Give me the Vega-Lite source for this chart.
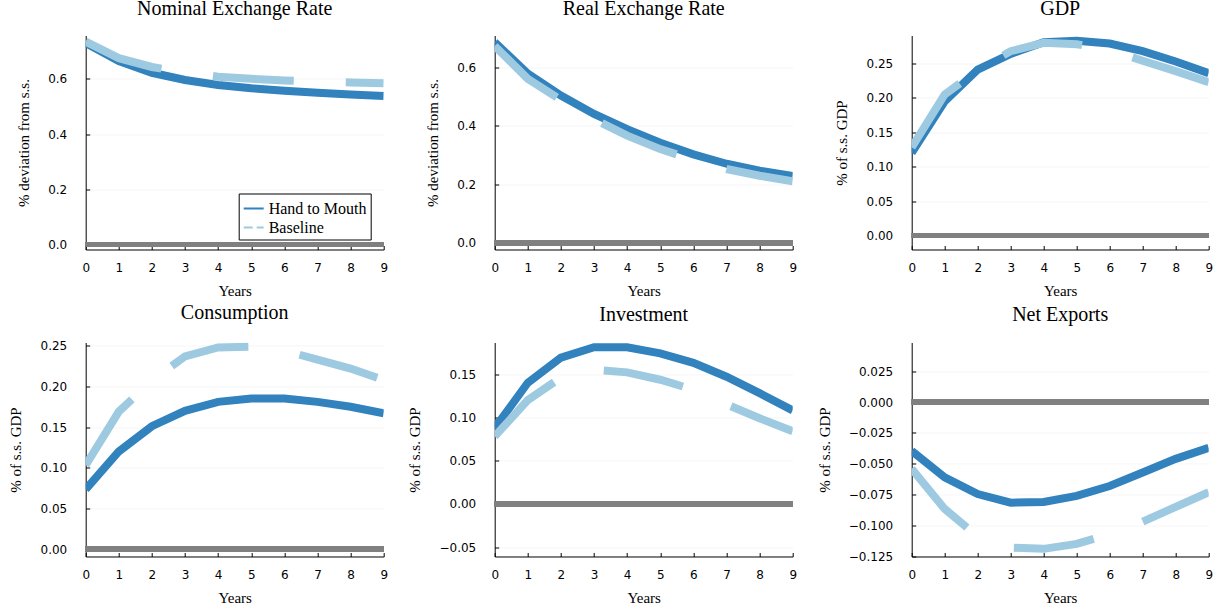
{
  "$schema": "https://vega.github.io/schema/vega-lite/v6.json",
  "padding": {"left": 8.7, "top": -1.5, "right": 5, "bottom": 5},
  "background": "white",
  "data": {"values": [
    {"panel":"NER","series":"Hand to Mouth","year":0,"value":0.73},{"panel":"NER","series":"Hand to Mouth","year":1,"value":0.664},{"panel":"NER","series":"Hand to Mouth","year":2,"value":0.622},{"panel":"NER","series":"Hand to Mouth","year":3,"value":0.596},{"panel":"NER","series":"Hand to Mouth","year":4,"value":0.578},{"panel":"NER","series":"Hand to Mouth","year":5,"value":0.566},{"panel":"NER","series":"Hand to Mouth","year":6,"value":0.557},{"panel":"NER","series":"Hand to Mouth","year":7,"value":0.55},{"panel":"NER","series":"Hand to Mouth","year":8,"value":0.543},{"panel":"NER","series":"Hand to Mouth","year":9,"value":0.538},
    {"panel":"NER","series":"Baseline","year":0,"value":0.735},{"panel":"NER","series":"Baseline","year":1,"value":0.675},{"panel":"NER","series":"Baseline","year":2,"value":0.643},{"panel":"NER","series":"Baseline","year":3,"value":0.622},{"panel":"NER","series":"Baseline","year":4,"value":0.608},{"panel":"NER","series":"Baseline","year":5,"value":0.6},{"panel":"NER","series":"Baseline","year":6,"value":0.594},{"panel":"NER","series":"Baseline","year":7,"value":0.59},{"panel":"NER","series":"Baseline","year":8,"value":0.587},{"panel":"NER","series":"Baseline","year":9,"value":0.584},
    {"panel":"RER","series":"Hand to Mouth","year":0,"value":0.685},{"panel":"RER","series":"Hand to Mouth","year":1,"value":0.578},{"panel":"RER","series":"Hand to Mouth","year":2,"value":0.503},{"panel":"RER","series":"Hand to Mouth","year":3,"value":0.44},{"panel":"RER","series":"Hand to Mouth","year":4,"value":0.388},{"panel":"RER","series":"Hand to Mouth","year":5,"value":0.342},{"panel":"RER","series":"Hand to Mouth","year":6,"value":0.302},{"panel":"RER","series":"Hand to Mouth","year":7,"value":0.27},{"panel":"RER","series":"Hand to Mouth","year":8,"value":0.246},{"panel":"RER","series":"Hand to Mouth","year":9,"value":0.228},
    {"panel":"RER","series":"Baseline","year":0,"value":0.672},{"panel":"RER","series":"Baseline","year":1,"value":0.56},{"panel":"RER","series":"Baseline","year":2,"value":0.488},{"panel":"RER","series":"Baseline","year":3,"value":0.422},{"panel":"RER","series":"Baseline","year":4,"value":0.366},{"panel":"RER","series":"Baseline","year":5,"value":0.32},{"panel":"RER","series":"Baseline","year":6,"value":0.283},{"panel":"RER","series":"Baseline","year":7,"value":0.252},{"panel":"RER","series":"Baseline","year":8,"value":0.229},{"panel":"RER","series":"Baseline","year":9,"value":0.21},
    {"panel":"GDP","series":"Hand to Mouth","year":0,"value":0.12},{"panel":"GDP","series":"Hand to Mouth","year":1,"value":0.195},{"panel":"GDP","series":"Hand to Mouth","year":2,"value":0.241},{"panel":"GDP","series":"Hand to Mouth","year":3,"value":0.264},{"panel":"GDP","series":"Hand to Mouth","year":4,"value":0.281},{"panel":"GDP","series":"Hand to Mouth","year":5,"value":0.283},{"panel":"GDP","series":"Hand to Mouth","year":6,"value":0.279},{"panel":"GDP","series":"Hand to Mouth","year":7,"value":0.268},{"panel":"GDP","series":"Hand to Mouth","year":8,"value":0.253},{"panel":"GDP","series":"Hand to Mouth","year":9,"value":0.236},
    {"panel":"GDP","series":"Baseline","year":0,"value":0.128},{"panel":"GDP","series":"Baseline","year":1,"value":0.205},{"panel":"GDP","series":"Baseline","year":2,"value":0.24},{"panel":"GDP","series":"Baseline","year":3,"value":0.268},{"panel":"GDP","series":"Baseline","year":4,"value":0.28},{"panel":"GDP","series":"Baseline","year":5,"value":0.278},{"panel":"GDP","series":"Baseline","year":6,"value":0.27},{"panel":"GDP","series":"Baseline","year":7,"value":0.254},{"panel":"GDP","series":"Baseline","year":8,"value":0.239},{"panel":"GDP","series":"Baseline","year":9,"value":0.223},
    {"panel":"C","series":"Hand to Mouth","year":0,"value":0.0735},{"panel":"C","series":"Hand to Mouth","year":1,"value":0.12},{"panel":"C","series":"Hand to Mouth","year":2,"value":0.151},{"panel":"C","series":"Hand to Mouth","year":3,"value":0.17},{"panel":"C","series":"Hand to Mouth","year":4,"value":0.181},{"panel":"C","series":"Hand to Mouth","year":5,"value":0.185},{"panel":"C","series":"Hand to Mouth","year":6,"value":0.185},{"panel":"C","series":"Hand to Mouth","year":7,"value":0.181},{"panel":"C","series":"Hand to Mouth","year":8,"value":0.175},{"panel":"C","series":"Hand to Mouth","year":9,"value":0.167},
    {"panel":"C","series":"Baseline","year":0,"value":0.103},{"panel":"C","series":"Baseline","year":1,"value":0.169},{"panel":"C","series":"Baseline","year":2,"value":0.207},{"panel":"C","series":"Baseline","year":3,"value":0.237},{"panel":"C","series":"Baseline","year":4,"value":0.248},{"panel":"C","series":"Baseline","year":5,"value":0.249},{"panel":"C","series":"Baseline","year":6,"value":0.244},{"panel":"C","series":"Baseline","year":7,"value":0.233},{"panel":"C","series":"Baseline","year":8,"value":0.222},{"panel":"C","series":"Baseline","year":9,"value":0.208},
    {"panel":"I","series":"Hand to Mouth","year":0,"value":0.0875},{"panel":"I","series":"Hand to Mouth","year":1,"value":0.14},{"panel":"I","series":"Hand to Mouth","year":2,"value":0.169},{"panel":"I","series":"Hand to Mouth","year":3,"value":0.181},{"panel":"I","series":"Hand to Mouth","year":4,"value":0.181},{"panel":"I","series":"Hand to Mouth","year":5,"value":0.174},{"panel":"I","series":"Hand to Mouth","year":6,"value":0.163},{"panel":"I","series":"Hand to Mouth","year":7,"value":0.147},{"panel":"I","series":"Hand to Mouth","year":8,"value":0.128},{"panel":"I","series":"Hand to Mouth","year":9,"value":0.108},
    {"panel":"I","series":"Baseline","year":0,"value":0.078},{"panel":"I","series":"Baseline","year":1,"value":0.12},{"panel":"I","series":"Baseline","year":2,"value":0.146},{"panel":"I","series":"Baseline","year":3,"value":0.155},{"panel":"I","series":"Baseline","year":4,"value":0.152},{"panel":"I","series":"Baseline","year":5,"value":0.1435},{"panel":"I","series":"Baseline","year":6,"value":0.132},{"panel":"I","series":"Baseline","year":7,"value":0.115},{"panel":"I","series":"Baseline","year":8,"value":0.099},{"panel":"I","series":"Baseline","year":9,"value":0.084},
    {"panel":"NX","series":"Hand to Mouth","year":0,"value":-0.0395},{"panel":"NX","series":"Hand to Mouth","year":1,"value":-0.061},{"panel":"NX","series":"Hand to Mouth","year":2,"value":-0.0745},{"panel":"NX","series":"Hand to Mouth","year":3,"value":-0.0815},{"panel":"NX","series":"Hand to Mouth","year":4,"value":-0.081},{"panel":"NX","series":"Hand to Mouth","year":5,"value":-0.076},{"panel":"NX","series":"Hand to Mouth","year":6,"value":-0.068},{"panel":"NX","series":"Hand to Mouth","year":7,"value":-0.057},{"panel":"NX","series":"Hand to Mouth","year":8,"value":-0.046},{"panel":"NX","series":"Hand to Mouth","year":9,"value":-0.037},
    {"panel":"NX","series":"Baseline","year":0,"value":-0.054},{"panel":"NX","series":"Baseline","year":1,"value":-0.0866},{"panel":"NX","series":"Baseline","year":2,"value":-0.109},{"panel":"NX","series":"Baseline","year":3,"value":-0.118},{"panel":"NX","series":"Baseline","year":4,"value":-0.119},{"panel":"NX","series":"Baseline","year":5,"value":-0.115},{"panel":"NX","series":"Baseline","year":6,"value":-0.107},{"panel":"NX","series":"Baseline","year":7,"value":-0.097},{"panel":"NX","series":"Baseline","year":8,"value":-0.085},{"panel":"NX","series":"Baseline","year":9,"value":-0.073}
  ]},
  "spacing": 20,
  "hconcat": [
    {
      "bounds": "flush",
      "spacing": 93,
      "vconcat": [
        {
          "width": 298, "height": 214,
          "title": "Nominal Exchange Rate",
          "layer": [
            {"mark": {"type": "rule", "color": "#808080", "strokeWidth": 5, "clip": true}, "encoding": {"y": {"datum": 0, "type": "quantitative"}}},
            {"transform": [{"filter": "datum.panel == 'NER' && datum.series == 'Hand to Mouth'"}],
             "mark": {"type": "line", "strokeWidth": 8, "clip": true},
             "encoding": {
               "x": {"field": "year", "type": "quantitative", "scale": {"domain": [0, 9], "nice": false}, "axis": {"title": "Years", "values": [0,1,2,3,4,5,6,7,8,9], "tickCount": 20, "format": "d", "labelOverlap": false}},
               "y": {"field": "value", "type": "quantitative", "scale": {"domain": [-0.018, 0.757], "nice": false, "zero": false}, "axis": {"title": "% deviation from s.s.", "values": [0, 0.2, 0.4, 0.6], "tickCount": 20, "format": ".1f"}},
               "color": {"field": "series", "type": "nominal", "scale": {"domain": ["Hand to Mouth", "Baseline"], "range": ["#3182bd", "#9ecae1"]},
                 "legend": {"title": null, "orient": "none", "legendX": 153, "legendY": 158, "symbolType": "stroke", "symbolSize": 400, "symbolStrokeWidth": 2, "labelFont": "Liberation Serif", "labelFontSize": 16, "labelColor": "#000", "strokeColor": "#000", "fillColor": "#ffffff", "padding": 4, "rowPadding": 0, "labelOffset": 4, "cornerRadius": 0,
                   "encode": {"symbols": {"update": {"strokeDash": {"signal": "datum.value === 'Baseline' ? [9, 4] : [1, 0]"}}}}}}
             }},
            {"transform": [{"filter": "datum.panel == 'NER' && datum.series == 'Baseline'"}],
             "mark": {"type": "line", "strokeWidth": 8, "strokeDash": [81, 52], "strokeCap": "butt", "clip": true},
             "encoding": {
               "x": {"field": "year", "type": "quantitative"},
               "y": {"field": "value", "type": "quantitative"},
               "color": {"field": "series", "type": "nominal"}
             }}
          ]
        },
        {
          "width": 298, "height": 214,
          "title": "Consumption",
          "layer": [
            {"mark": {"type": "rule", "color": "#808080", "strokeWidth": 5, "clip": true}, "encoding": {"y": {"datum": 0, "type": "quantitative"}}},
            {"transform": [{"filter": "datum.panel == 'C' && datum.series == 'Hand to Mouth'"}],
             "mark": {"type": "line", "strokeWidth": 8, "color": "#3182bd", "clip": true},
             "encoding": {
               "x": {"field": "year", "type": "quantitative", "scale": {"domain": [0, 9], "nice": false}, "axis": {"title": "Years", "values": [0,1,2,3,4,5,6,7,8,9], "tickCount": 20, "format": "d", "labelOverlap": false}},
               "y": {"field": "value", "type": "quantitative", "scale": {"domain": [-0.0092, 0.254], "nice": false, "zero": false}, "axis": {"title": "% of s.s. GDP", "values": [0, 0.05, 0.1, 0.15, 0.2, 0.25], "tickCount": 20, "format": ".2f"}}
             }},
            {"transform": [{"filter": "datum.panel == 'C' && datum.series == 'Baseline'"}],
             "mark": {"type": "line", "strokeWidth": 8, "color": "#9ecae1", "strokeDash": [81, 52], "strokeCap": "butt", "clip": true},
             "encoding": {"x": {"field": "year", "type": "quantitative"}, "y": {"field": "value", "type": "quantitative"}}}
          ]
        }
      ]
    },
    {
      "spacing": 20,
      "hconcat": [
        {
          "bounds": "flush",
          "spacing": 93,
          "vconcat": [
            {
              "width": 298, "height": 214,
              "title": "Real Exchange Rate",
              "layer": [
                {"mark": {"type": "rule", "color": "#808080", "strokeWidth": 5, "clip": true}, "encoding": {"y": {"datum": 0, "type": "quantitative"}}},
                {"transform": [{"filter": "datum.panel == 'RER' && datum.series == 'Hand to Mouth'"}],
                 "mark": {"type": "line", "strokeWidth": 8, "color": "#3182bd", "clip": true},
                 "encoding": {
                   "x": {"field": "year", "type": "quantitative", "scale": {"domain": [0, 9], "nice": false}, "axis": {"title": "Years", "values": [0,1,2,3,4,5,6,7,8,9], "tickCount": 20, "format": "d", "labelOverlap": false}},
                   "y": {"field": "value", "type": "quantitative", "scale": {"domain": [-0.023, 0.708], "nice": false, "zero": false}, "axis": {"title": "% deviation from s.s.", "values": [0, 0.2, 0.4, 0.6], "tickCount": 20, "format": ".1f"}}
                 }},
                {"transform": [{"filter": "datum.panel == 'RER' && datum.series == 'Baseline'"}],
                 "mark": {"type": "line", "strokeWidth": 8, "color": "#9ecae1", "strokeDash": [81, 52], "strokeCap": "butt", "clip": true},
                 "encoding": {"x": {"field": "year", "type": "quantitative"}, "y": {"field": "value", "type": "quantitative"}}}
              ]
            },
            {
              "width": 298, "height": 214,
              "title": "Investment",
              "layer": [
                {"mark": {"type": "rule", "color": "#808080", "strokeWidth": 5, "clip": true}, "encoding": {"y": {"datum": 0, "type": "quantitative"}}},
                {"transform": [{"filter": "datum.panel == 'I' && datum.series == 'Hand to Mouth'"}],
                 "mark": {"type": "line", "strokeWidth": 8, "color": "#3182bd", "clip": true},
                 "encoding": {
                   "x": {"field": "year", "type": "quantitative", "scale": {"domain": [0, 9], "nice": false}, "axis": {"title": "Years", "values": [0,1,2,3,4,5,6,7,8,9], "tickCount": 20, "format": "d", "labelOverlap": false}},
                   "y": {"field": "value", "type": "quantitative", "scale": {"domain": [-0.0607, 0.1865], "nice": false, "zero": false}, "axis": {"title": "% of s.s. GDP", "values": [-0.05, 0, 0.05, 0.1, 0.15], "tickCount": 20, "format": ".2f"}}
                 }},
                {"transform": [{"filter": "datum.panel == 'I' && datum.series == 'Baseline'"}],
                 "mark": {"type": "line", "strokeWidth": 8, "color": "#9ecae1", "strokeDash": [81, 52], "strokeCap": "butt", "clip": true},
                 "encoding": {"x": {"field": "year", "type": "quantitative"}, "y": {"field": "value", "type": "quantitative"}}}
              ]
            }
          ]
        },
        {
          "bounds": "flush",
          "spacing": 93,
          "vconcat": [
            {
              "width": 297, "height": 214,
              "title": "GDP",
              "layer": [
                {"mark": {"type": "rule", "color": "#808080", "strokeWidth": 5, "clip": true}, "encoding": {"y": {"datum": 0, "type": "quantitative"}}},
                {"transform": [{"filter": "datum.panel == 'GDP' && datum.series == 'Hand to Mouth'"}],
                 "mark": {"type": "line", "strokeWidth": 8, "color": "#3182bd", "clip": true},
                 "encoding": {
                   "x": {"field": "year", "type": "quantitative", "scale": {"domain": [0, 9], "nice": false}, "axis": {"title": "Years", "values": [0,1,2,3,4,5,6,7,8,9], "tickCount": 20, "format": "d", "labelOverlap": false}},
                   "y": {"field": "value", "type": "quantitative", "scale": {"domain": [-0.0203, 0.2907], "nice": false, "zero": false}, "axis": {"title": "% of s.s. GDP", "values": [0, 0.05, 0.1, 0.15, 0.2, 0.25], "tickCount": 20, "format": ".2f"}}
                 }},
                {"transform": [{"filter": "datum.panel == 'GDP' && datum.series == 'Baseline'"}],
                 "mark": {"type": "line", "strokeWidth": 8, "color": "#9ecae1", "strokeDash": [81, 52], "strokeCap": "butt", "clip": true},
                 "encoding": {"x": {"field": "year", "type": "quantitative"}, "y": {"field": "value", "type": "quantitative"}}}
              ]
            },
            {
              "width": 297, "height": 214,
              "title": "Net Exports",
              "layer": [
                {"mark": {"type": "rule", "color": "#808080", "strokeWidth": 5, "clip": true}, "encoding": {"y": {"datum": 0, "type": "quantitative"}}},
                {"transform": [{"filter": "datum.panel == 'NX' && datum.series == 'Hand to Mouth'"}],
                 "mark": {"type": "line", "strokeWidth": 8, "color": "#3182bd", "clip": true},
                 "encoding": {
                   "x": {"field": "year", "type": "quantitative", "scale": {"domain": [0, 9], "nice": false}, "axis": {"title": "Years", "values": [0,1,2,3,4,5,6,7,8,9], "tickCount": 20, "format": "d", "labelOverlap": false}},
                   "y": {"field": "value", "type": "quantitative", "scale": {"domain": [-0.1252, 0.0484], "nice": false, "zero": false}, "axis": {"title": "% of s.s. GDP", "values": [-0.125, -0.1, -0.075, -0.05, -0.025, 0, 0.025], "tickCount": 20, "format": ".3f"}}
                 }},
                {"transform": [{"filter": "datum.panel == 'NX' && datum.series == 'Baseline'"}],
                 "mark": {"type": "line", "strokeWidth": 8, "color": "#9ecae1", "strokeDash": [81, 52], "strokeCap": "butt", "clip": true},
                 "encoding": {"x": {"field": "year", "type": "quantitative"}, "y": {"field": "value", "type": "quantitative"}}}
              ]
            }
          ]
        }
      ]
    }
  ],
  "config": {
    "view": {"stroke": null},
    "title": {"font": "Liberation Serif", "fontSize": 20, "fontWeight": "normal", "color": "#000", "frame": "group", "offset": 17},
    "axis": {
      "labelFont": "DejaVu Sans", "labelFontSize": 12, "labelColor": "#000",
      "titleFont": "Liberation Serif", "titleFontSize": 15, "titleFontWeight": "normal", "titleColor": "#000",
      "domainColor": "#000", "domainWidth": 1, "tickColor": "#000", "tickSize": -4, "tickWidth": 1,
      "gridColor": "#000", "gridOpacity": 0.07, "gridWidth": 0.6
    },
    "axisX": {"grid": false, "labelPadding": 17, "titlePadding": 10, "labelFlush": false, "labelOverlap": false},
    "axisY": {"grid": true, "labelPadding": 23, "titlePadding": 16}
  }
}
